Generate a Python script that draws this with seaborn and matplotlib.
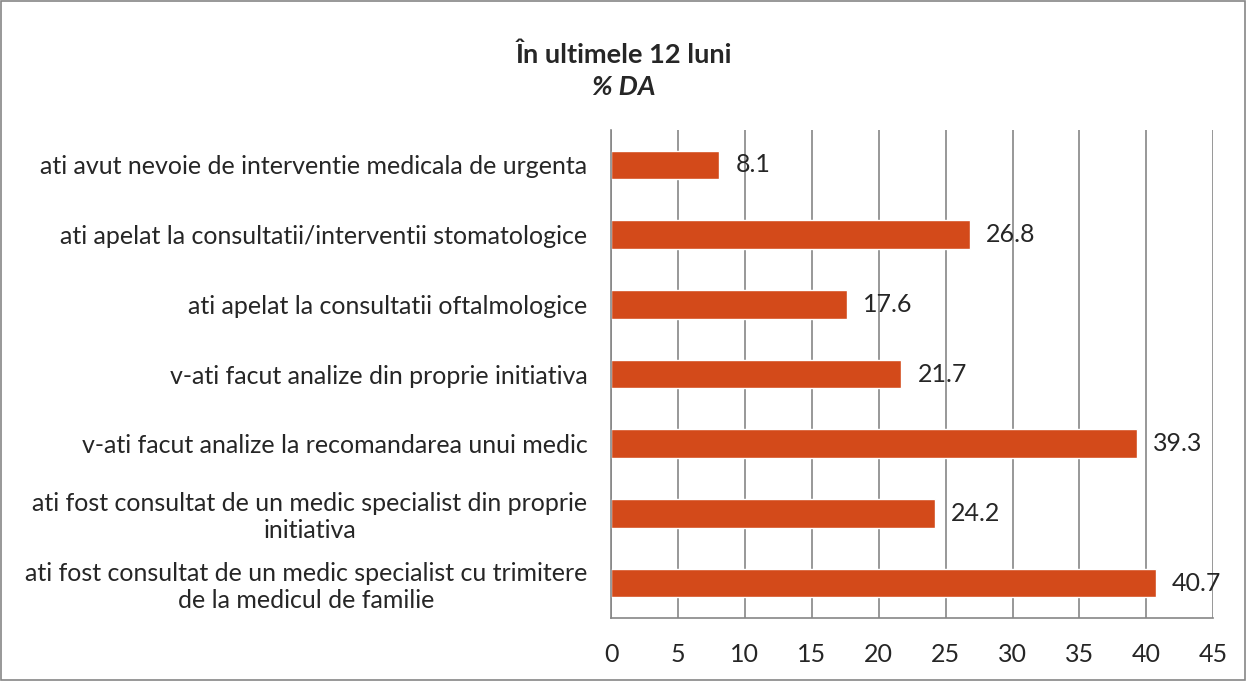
import matplotlib
matplotlib.use("Agg")
import matplotlib.pyplot as plt
import seaborn as sns
import pandas as pd
from matplotlib.patches import Rectangle

# data, top to bottom as in the chart
categories = [
    "ati avut nevoie de interventie medicala de urgenta",
    "ati apelat la consultatii/interventii stomatologice",
    "ati apelat la consultatii oftalmologice",
    "v-ati facut analize din proprie initiativa",
    "v-ati facut analize la recomandarea unui medic",
    "ati fost consultat de un medic specialist din proprie\ninitiativa",
    "ati fost consultat de un medic specialist cu trimitere\nde la medicul de familie",
]
values = [8.1, 26.8, 17.6, 21.7, 39.3, 24.2, 40.7]
x_ticks = [0, 5, 10, 15, 20, 25, 30, 35, 40, 45]

df = pd.DataFrame({"categorie": categories, "procent": values})

sns.set_style("white")
plt.rcParams["font.family"] = ["Lato", "DejaVu Sans"]

bar_color = "#D34A1A"
grid_color = "#868686"
fs = 18

fig = plt.figure(figsize=(12.47, 6.81), dpi=100)
ax = fig.add_axes([0.490, 0.0925, 0.483, 0.7165])

sns.barplot(data=df, x="procent", y="categorie", color=bar_color,
            saturation=1, width=0.41, ax=ax)

ax.set_xlim(0, 45)
ax.set_xticks(x_ticks)
ax.set_xticklabels([str(t) for t in x_ticks], fontsize=fs)
ax.set_xlabel("")
ax.set_ylabel("")
ax.set_ylim(len(categories) - 0.5, -0.5)

# category boundary ticks (excel style)
ax.set_yticks([i - 0.5 for i in range(len(categories) + 1)], minor=False)
ax.set_yticklabels([""] * (len(categories) + 1))
ax.set_yticks(range(len(categories)), minor=True)
ax.set_yticklabels(categories, minor=True, fontsize=fs)
ax.tick_params(axis="y", which="minor", length=0, pad=17)
ax.tick_params(axis="y", which="major", length=7, color=grid_color, width=1.2)
ax.tick_params(axis="x", length=7, color=grid_color, width=1.2, pad=11)
for lbl in ax.get_yticklabels(minor=True):
    lbl.set_multialignment("center")

ax.xaxis.grid(True, color=grid_color, linewidth=1.2)
ax.set_axisbelow(True)
for s in ["top", "right"]:
    ax.spines[s].set_visible(False)
for s in ["left", "bottom"]:
    ax.spines[s].set_color(grid_color)
    ax.spines[s].set_linewidth(1.2)

for i, v in enumerate(values):
    ax.text(v + 1.2, i, f"{v:.1f}", va="center", ha="left", fontsize=fs)

fig.text(0.5, 0.92, "În ultimele 12 luni", ha="center", va="center",
         fontsize=19.5, fontweight="bold")
fig.text(0.5, 0.872, "% DA", ha="center", va="center",
         fontsize=19.5, fontweight="bold", style="italic")

fig.patches.append(Rectangle((0.001, 0.001), 0.997, 0.997, transform=fig.transFigure,
                             fill=False, edgecolor=grid_color, linewidth=1.2))

fig.savefig("out.png", dpi=100)
